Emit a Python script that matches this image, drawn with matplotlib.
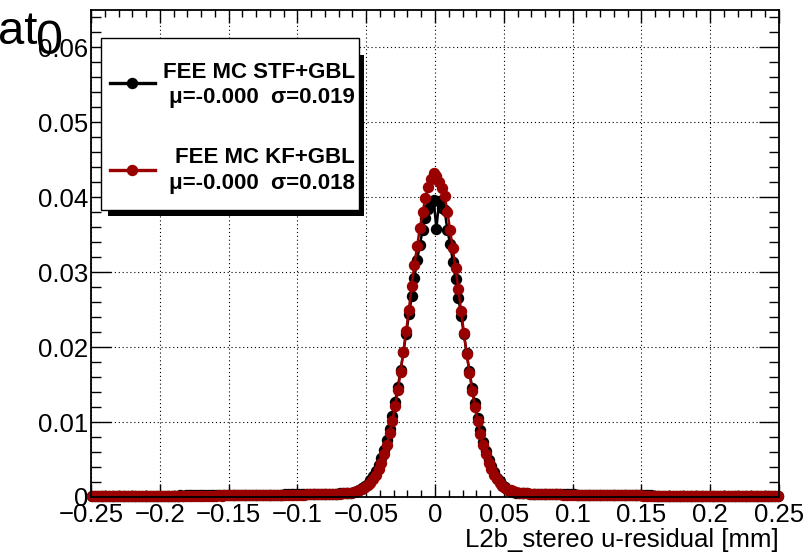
import numpy as np
import matplotlib
matplotlib.use("Agg")
import matplotlib.pyplot as plt
from matplotlib.patches import Rectangle
from matplotlib.lines import Line2D

plt.rcParams['font.family'] = ['Liberation Sans', 'DejaVu Sans']

# ---------------- data ----------------
x_min, x_max, n_bins = -0.25, 0.25, 250

red_left = [
    0.00010, 0.00010, 0.00011, 0.00010, 0.00011, 0.00011, 0.00012, 0.00011, 0.00012, 0.00012,
    0.00012, 0.00013, 0.00012, 0.00013, 0.00013, 0.00014, 0.00013, 0.00014, 0.00014, 0.00014,
    0.00015, 0.00014, 0.00015, 0.00015, 0.00015,
    0.00015, 0.00016, 0.00015, 0.00016, 0.00016, 0.00017, 0.00016, 0.00017, 0.00017, 0.00018,
    0.00017, 0.00018, 0.00018, 0.00019, 0.00018, 0.00019, 0.00019, 0.00020, 0.00019, 0.00020,
    0.00020, 0.00021, 0.00020, 0.00021, 0.00021,
    0.00022, 0.00022, 0.00023, 0.00022, 0.00023, 0.00024, 0.00023, 0.00024, 0.00025, 0.00024,
    0.00025, 0.00026, 0.00025, 0.00026, 0.00027, 0.00026, 0.00027, 0.00028, 0.00028, 0.00029,
    0.00028, 0.00029, 0.00030, 0.00030, 0.00031,
    0.00032, 0.00032, 0.00033, 0.00034, 0.00034, 0.00035, 0.00036, 0.00036, 0.00037, 0.00038,
    0.00039, 0.00040, 0.00041, 0.00042, 0.00043,
    0.00045, 0.00047, 0.00050, 0.00055, 0.00060,
    0.0007, 0.0008, 0.0009, 0.0011, 0.0013, 0.0016, 0.0019, 0.0024, 0.0030, 0.0037,
    0.0046, 0.0057, 0.0070, 0.0085, 0.0102, 0.0121, 0.0143, 0.0167, 0.0194, 0.0221,
    0.0250, 0.0281, 0.0310, 0.0335, 0.0359, 0.0380, 0.0399, 0.0414, 0.0424, 0.0433,
]
red_right = [
    0.0428, 0.0420, 0.0412, 0.0402, 0.0381, 0.0356, 0.0332, 0.0305, 0.0277, 0.0248,
    0.0219, 0.0191, 0.0166, 0.0142, 0.0120, 0.0101, 0.0084, 0.0069, 0.0057, 0.0046,
    0.0037, 0.0030, 0.0024, 0.0019, 0.0015, 0.0012, 0.0010, 0.0009, 0.0008, 0.0007,
    0.00060, 0.00054, 0.00050, 0.00047, 0.00045,
    0.00043, 0.00042, 0.00041, 0.00040, 0.00039, 0.00038, 0.00037, 0.00036, 0.00036, 0.00035,
    0.00034, 0.00033, 0.00033, 0.00032, 0.00031,
    0.00031, 0.00030, 0.00030, 0.00029, 0.00029, 0.00028, 0.00028, 0.00027, 0.00027, 0.00026,
    0.00026, 0.00025, 0.00025, 0.00025, 0.00024, 0.00024, 0.00023, 0.00023, 0.00023, 0.00022,
    0.00022, 0.00022, 0.00021, 0.00021, 0.00021,
    0.00020, 0.00020, 0.00020, 0.00019, 0.00019, 0.00019, 0.00018, 0.00018, 0.00018, 0.00018,
    0.00017, 0.00017, 0.00017, 0.00016, 0.00016, 0.00016, 0.00016, 0.00015, 0.00015, 0.00015,
    0.00015, 0.00014, 0.00014, 0.00014, 0.00014,
    0.00014, 0.00013, 0.00013, 0.00013, 0.00013, 0.00012, 0.00012, 0.00012, 0.00012, 0.00012,
    0.00011, 0.00011, 0.00011, 0.00011, 0.00011, 0.00011, 0.00010, 0.00010, 0.00010, 0.00010,
    0.00010, 0.00010, 0.00010, 0.00009, 0.00009,
]

black_left = [
    0.00012, 0.00012, 0.00013, 0.00012, 0.00013, 0.00013, 0.00014, 0.00013, 0.00014, 0.00014,
    0.00015, 0.00015, 0.00014, 0.00015, 0.00016, 0.00016, 0.00015, 0.00016, 0.00017, 0.00016,
    0.00017, 0.00017, 0.00018, 0.00017, 0.00018,
    0.00018, 0.00019, 0.00018, 0.00019, 0.00019, 0.00020, 0.00020, 0.00021, 0.00020, 0.00021,
    0.00021, 0.00022, 0.00022, 0.00023, 0.00022, 0.00023, 0.00023, 0.00024, 0.00024, 0.00025,
    0.00024, 0.00025, 0.00025, 0.00026, 0.00026,
    0.00026, 0.00027, 0.00027, 0.00027, 0.00028, 0.00028, 0.00028, 0.00029, 0.00029, 0.00029,
    0.00030, 0.00030, 0.00030, 0.00031, 0.00031, 0.00032, 0.00032, 0.00032, 0.00033, 0.00033,
    0.00034, 0.00034, 0.00035, 0.00035, 0.00036,
    0.00036, 0.00037, 0.00037, 0.00038, 0.00038, 0.00039, 0.00039, 0.00040, 0.00041, 0.00041,
    0.00042, 0.00043, 0.00044, 0.00045, 0.00046,
    0.00047, 0.00049, 0.00051, 0.00054, 0.00060,
    0.0007, 0.0008, 0.0010, 0.0012, 0.0015, 0.0018, 0.0023, 0.0028, 0.0035, 0.0043,
    0.0052, 0.0063, 0.0076, 0.0091, 0.0108, 0.0127, 0.0147, 0.0169, 0.0193, 0.0218,
    0.0244, 0.0268, 0.0292, 0.0316, 0.0337, 0.0356, 0.0372, 0.0384, 0.0393, 0.0397,
]
black_right = [
    0.0358, 0.0395, 0.0386, 0.0383, 0.0356, 0.0338, 0.0314, 0.0291, 0.0266, 0.0242,
    0.0217, 0.0192, 0.0168, 0.0146, 0.0125, 0.0106, 0.0089, 0.0074, 0.0061, 0.0050,
    0.0041, 0.0033, 0.0026, 0.0021, 0.0016, 0.0013, 0.0010, 0.0008, 0.0007, 0.0006,
    0.00056, 0.00052, 0.00049, 0.00047, 0.00045,
    0.00044, 0.00043, 0.00042, 0.00041, 0.00040, 0.00040, 0.00039, 0.00038, 0.00038, 0.00037,
    0.00036, 0.00036, 0.00035, 0.00035, 0.00034,
    0.00034, 0.00033, 0.00033, 0.00032, 0.00032, 0.00031, 0.00031, 0.00030, 0.00030, 0.00029,
    0.00029, 0.00028, 0.00028, 0.00027, 0.00027, 0.00026, 0.00026, 0.00025, 0.00025, 0.00024,
    0.00024, 0.00024, 0.00023, 0.00023, 0.00022,
    0.00022, 0.00022, 0.00021, 0.00021, 0.00020, 0.00020, 0.00020, 0.00019, 0.00019, 0.00019,
    0.00018, 0.00018, 0.00018, 0.00017, 0.00017, 0.00017, 0.00016, 0.00016, 0.00016, 0.00016,
    0.00015, 0.00015, 0.00015, 0.00014, 0.00014,
    0.00014, 0.00014, 0.00013, 0.00013, 0.00013, 0.00013, 0.00012, 0.00012, 0.00012, 0.00012,
    0.00012, 0.00011, 0.00011, 0.00011, 0.00011, 0.00011, 0.00010, 0.00010, 0.00010, 0.00010,
    0.00010, 0.00010, 0.00009, 0.00009, 0.00009,
]

series_names = ["FEE MC STF+GBL", "FEE MC KF+GBL"]
series_stats = ["\u03bc=-0.000  \u03c3=0.019", "\u03bc=-0.000  \u03c3=0.018"]
series_colors = ["#000000", "#990000"]

x_ticks = [-0.25, -0.2, -0.15, -0.1, -0.05, 0, 0.05, 0.1, 0.15, 0.2, 0.25]
x_tick_labels = ["\u22120.25", "\u22120.2", "\u22120.15", "\u22120.1", "\u22120.05", "0",
                 "0.05", "0.1", "0.15", "0.2", "0.25"]
y_ticks = [0, 0.01, 0.02, 0.03, 0.04, 0.05, 0.06]
y_tick_labels = ["0", "0.01", "0.02", "0.03", "0.04", "0.05", "0.06"]
x_title = "L2b_stereo u-residual [mm]"

# ---------------- figure ----------------
W, H = 806, 552
fig = plt.figure(figsize=(W / 100, H / 100), dpi=100)
L, R, T, B = 91, 779, 10, 497
ax = fig.add_axes([L / W, 1 - B / H, (R - L) / W, (B - T) / H])

edges = np.linspace(x_min, x_max, n_bins + 1)
centers = 0.5 * (edges[:-1] + edges[1:])
black = np.array(black_left + black_right)
red = np.array(red_left + red_right)

for vals, col, z in [(black, series_colors[0], 3), (red, series_colors[1], 4)]:
    ax.plot(centers, vals, color=col, lw=1.8, marker='o', ms=7.2,
            mec=col, mfc=col, zorder=z, clip_on=False)

ax.set_xlim(x_min, x_max)
ax.set_ylim(0, 0.065)

ax.set_xticks(x_ticks)
ax.set_xticklabels(x_tick_labels)
ax.set_yticks(y_ticks)
ax.set_yticklabels(y_tick_labels)
ax.set_xticks(np.arange(-0.25, 0.2501, 0.01), minor=True)
ax.set_yticks(np.arange(0, 0.065, 0.002), minor=True)

ax.tick_params(axis='both', which='both', direction='in', top=True, right=True,
               labelsize=18.5, colors='black', width=1.0)
ax.tick_params(axis='x', which='major', length=9.5, pad=4)
ax.tick_params(axis='x', which='minor', length=4.7)
ax.tick_params(axis='y', which='major', length=14.5, pad=2)
ax.tick_params(axis='y', which='minor', length=7.3)

ax.grid(True, which='major', color='black', linestyle=(0, (1, 2.5)), linewidth=0.8)
ax.set_axisbelow(True)
for sp in ax.spines.values():
    sp.set_linewidth(1.3)
    sp.set_zorder(10)

def px(x, y):
    return x / W, 1 - y / H

fig.text(*px(779, 540), x_title, ha='right', va='center', fontsize=18.5)

# partial title at top-left (cut by the canvas edge)
fig.text(*px(37, 44), "at", ha='right', va='baseline', fontsize=34)
fig.text(*px(35, 54), "0", ha='left', va='baseline', fontsize=35)

# ---------------- legend ----------------
shadow = Rectangle(px(108, 216), (364 - 108) / W, (216 - 55) / H,
                   transform=fig.transFigure, facecolor='black', edgecolor='none', zorder=20)
box = Rectangle(px(101, 210), (359 - 101) / W, (210 - 38) / H,
                transform=fig.transFigure, facecolor='white', edgecolor='black',
                linewidth=1.0, zorder=21)
fig.add_artist(shadow)
fig.add_artist(box)

rows = [(83, 72, 97), (170, 158, 183)]
for i, (ly, ty1, ty2) in enumerate(rows):
    x0, y0 = px(110, ly)
    x1, _ = px(155, ly)
    xm, _ = px(132, ly)
    fig.add_artist(Line2D([x0, x1], [y0, y0], transform=fig.transFigure,
                          color=series_colors[i], lw=2.4, zorder=22))
    fig.add_artist(Line2D([xm], [y0], transform=fig.transFigure, marker='o', ms=7.2,
                          color=series_colors[i], zorder=23))
    fig.text(*px(355, ty1), series_names[i], ha='right', va='center',
             fontsize=16, fontweight='bold', zorder=23)
    fig.text(*px(355, ty2), series_stats[i], ha='right', va='center',
             fontsize=16, fontweight='bold', zorder=23)

fig.savefig("out.png", dpi=100)
